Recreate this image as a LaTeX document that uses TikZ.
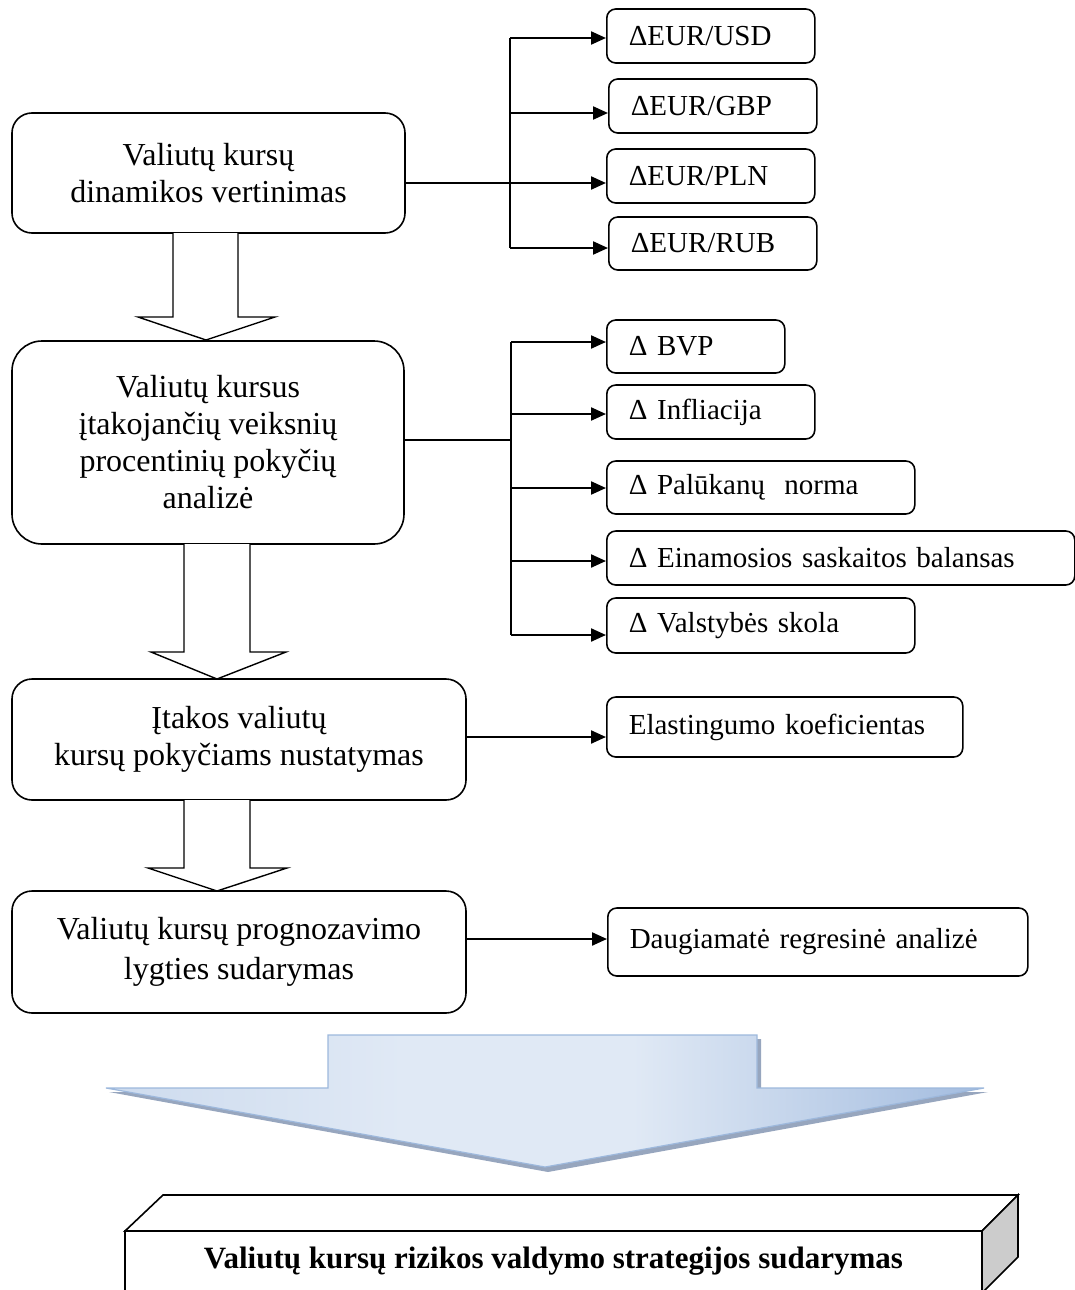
\documentclass[tikz,border=0pt]{standalone}
\usepackage{fontspec}
\setmainfont{Liberation Serif}
\usetikzlibrary{arrows.meta,calc}

\definecolor{bigleft}{HTML}{CDDBEE}
\definecolor{biglight}{HTML}{E0E9F5}
\definecolor{bigdark}{HTML}{A3BCDF}
\definecolor{bigedge}{HTML}{9DB8DC}
\definecolor{bigshadow}{HTML}{8596B3}
\definecolor{sideface}{HTML}{CCCCCC}

% left-to-right colour run of the large arrow (fitted range 25bp..75bp)
\pgfdeclarehorizontalshading{bigarrowshade}{100bp}{%
  color(0bp)=(bigleft); color(25bp)=(bigleft); color(42bp)=(biglight);
  color(55bp)=(biglight); color(75bp)=(bigdark); color(100bp)=(bigdark)}

\tikzset{
  mainbox/.style={draw, line width=1.6pt, rounded corners=20pt, align=center,
    font=\fontsize{32}{37}\selectfont, inner sep=0pt},
  sidebox/.style={draw, line width=1.6pt, rounded corners=9pt, anchor=west,
    font=\fontsize{29}{33}\selectfont, inner xsep=22pt, inner ysep=0pt, align=left},
  conn/.style={line width=2.2pt},
  thinconn/.style={line width=1.3pt},
  arr/.style={line width=2.2pt, -{Triangle[length=15pt,width=13pt]}},
  hollow/.style={draw, line width=1.4pt, fill=white, line join=miter},
  solid3d/.style={draw, line width=1.6pt, line join=miter}
}

\begin{document}
\begin{tikzpicture}[x=1pt,y=-1pt]
\useasboundingbox (0,0) rectangle (1075,1290);
\clip (0,0) rectangle (1075,1290);

% main process boxes
\node[mainbox, minimum width=393pt, minimum height=120pt] (b1) at (208.5,173)
  {Valiutų kursų\\dinamikos vertinimas};
\node[mainbox, rounded corners=30pt, minimum width=392pt, minimum height=203pt] (b2) at (208,442.5)
  {Valiutų kursus\\įtakojančių veiksnių\\procentinių pokyčių\\analizė};
\node[mainbox, minimum width=454pt, minimum height=121pt] (b3) at (239,739.5)
  {Įtakos valiutų\\kursų pokyčiams nustatymas};
\node[mainbox, font=\fontsize{32}{40}\selectfont, minimum width=454pt, minimum height=122pt] (b4) at (239,952)
  {Valiutų kursų prognozavimo\\lygties sudarymas};

% exchange rate boxes
\node[sidebox, text width=164pt, minimum height=54pt] (e1) at (606,36) {ΔEUR/USD};
\node[sidebox, text width=164pt, minimum height=54pt] (e2) at (608,106) {ΔEUR/GBP};
\node[sidebox, text width=164pt, minimum height=54pt] (e3) at (606,176) {ΔEUR/PLN};
\node[sidebox, text width=164pt, minimum height=53pt] (e4) at (608,243.5) {ΔEUR/RUB};

% factor boxes
\node[sidebox, text width=134pt, minimum height=53pt] (f1) at (606,346.5) {Δ BVP};
\node[sidebox, text width=164pt, minimum height=54pt] (f2) at (606,412) {Δ Infliacija};
\node[sidebox, text width=264pt, minimum height=53pt] (f3) at (606,487.5) {Δ Palūkanų\ \ norma};
\node[sidebox, text width=424pt, minimum height=54pt] (f4) at (606,558) {Δ Einamosios saskaitos balansas};
\node[sidebox, text width=264pt, minimum height=55pt] (f5) at (606,625.5) {Δ Valstybės skola};

% method boxes
\node[sidebox, text width=312pt, minimum height=60pt] (g1) at (606,727) {Elastingumo koeficientas};
\node[sidebox, text width=376pt, minimum height=68pt] (g2) at (607,942) {Daugiamatė regresinė analizė};

% branching to the exchange rate boxes
\coordinate (u1) at (510,38);
\coordinate (u2) at (510,113);
\coordinate (u3) at (510,183);
\coordinate (u4) at (510,248);
\draw[conn] (u1) -- (u4);
\draw[conn] (b1.east |- u3) -- (u3);
\foreach \i in {1,...,4} \draw[arr] (u\i) -- (u\i -| e\i.west);

% branching to the factor boxes
\coordinate (v0) at (511,440);
\coordinate (v1) at (511,342);
\coordinate (v2) at (511,414);
\coordinate (v3) at (511,488);
\coordinate (v4) at (511,561);
\coordinate (v5) at (511,635);
\draw[thinconn] (b2.east |- v0) -- (v0);
\draw[conn] (v1) -- (v5);
\foreach \i in {1,...,5} \draw[arr] (v\i) -- (v\i -| f\i.west);

% single links
\coordinate (w1) at (500,737);
\coordinate (w2) at (500,939);
\draw[arr] (b3.east |- w1) -- (w1 -| g1.west);
\draw[arr] (b4.east |- w2) -- (w2 -| g2.west);

% hollow block arrows between the main boxes
\draw[hollow] (173,233) -- (173,317) -- (138,317) -- (206,340) -- (275,317) -- (238,317) -- (238,233);
\draw[hollow] (184,544) -- (184,652) -- (151,652) -- (217,679) -- (286,652) -- (250,652) -- (250,544);
\draw[hollow] (184,800) -- (184,868) -- (148,868) -- (217,891) -- (287,868) -- (250,868) -- (250,800);

% large shaded arrow
\fill[bigshadow, opacity=0.85] (331,1039) -- (331,1092) -- (109,1092) -- (548,1172) -- (988,1092) -- (761,1092) -- (761,1039) -- cycle;
\shade[shading=bigarrowshade]
  (328,1035) -- (328,1088) -- (106,1088) -- (545,1167) -- (984,1088) -- (757,1088) -- (757,1035) -- cycle;
\draw[bigedge, line width=1.2pt, line join=miter]
  (328,1035) -- (328,1088) -- (106,1088) -- (545,1167) -- (984,1088) -- (757,1088) -- (757,1035) -- cycle;

% three-dimensional result block
\draw[solid3d, fill=white] (125,1231) rectangle (982,1300);
\draw[solid3d, fill=white] (125,1231) -- (163,1195) -- (1018,1195) -- (982,1231) -- cycle;
\draw[solid3d, fill=sideface] (982,1231) -- (1018,1195) -- (1018,1257) -- (982,1293) -- cycle;
\node[font=\bfseries\fontsize{31}{36}\selectfont, anchor=base, inner sep=0pt] (strat) at (553.5,1268)
  {Valiutų kursų rizikos valdymo strategijos sudarymas};

\end{tikzpicture}
\end{document}
